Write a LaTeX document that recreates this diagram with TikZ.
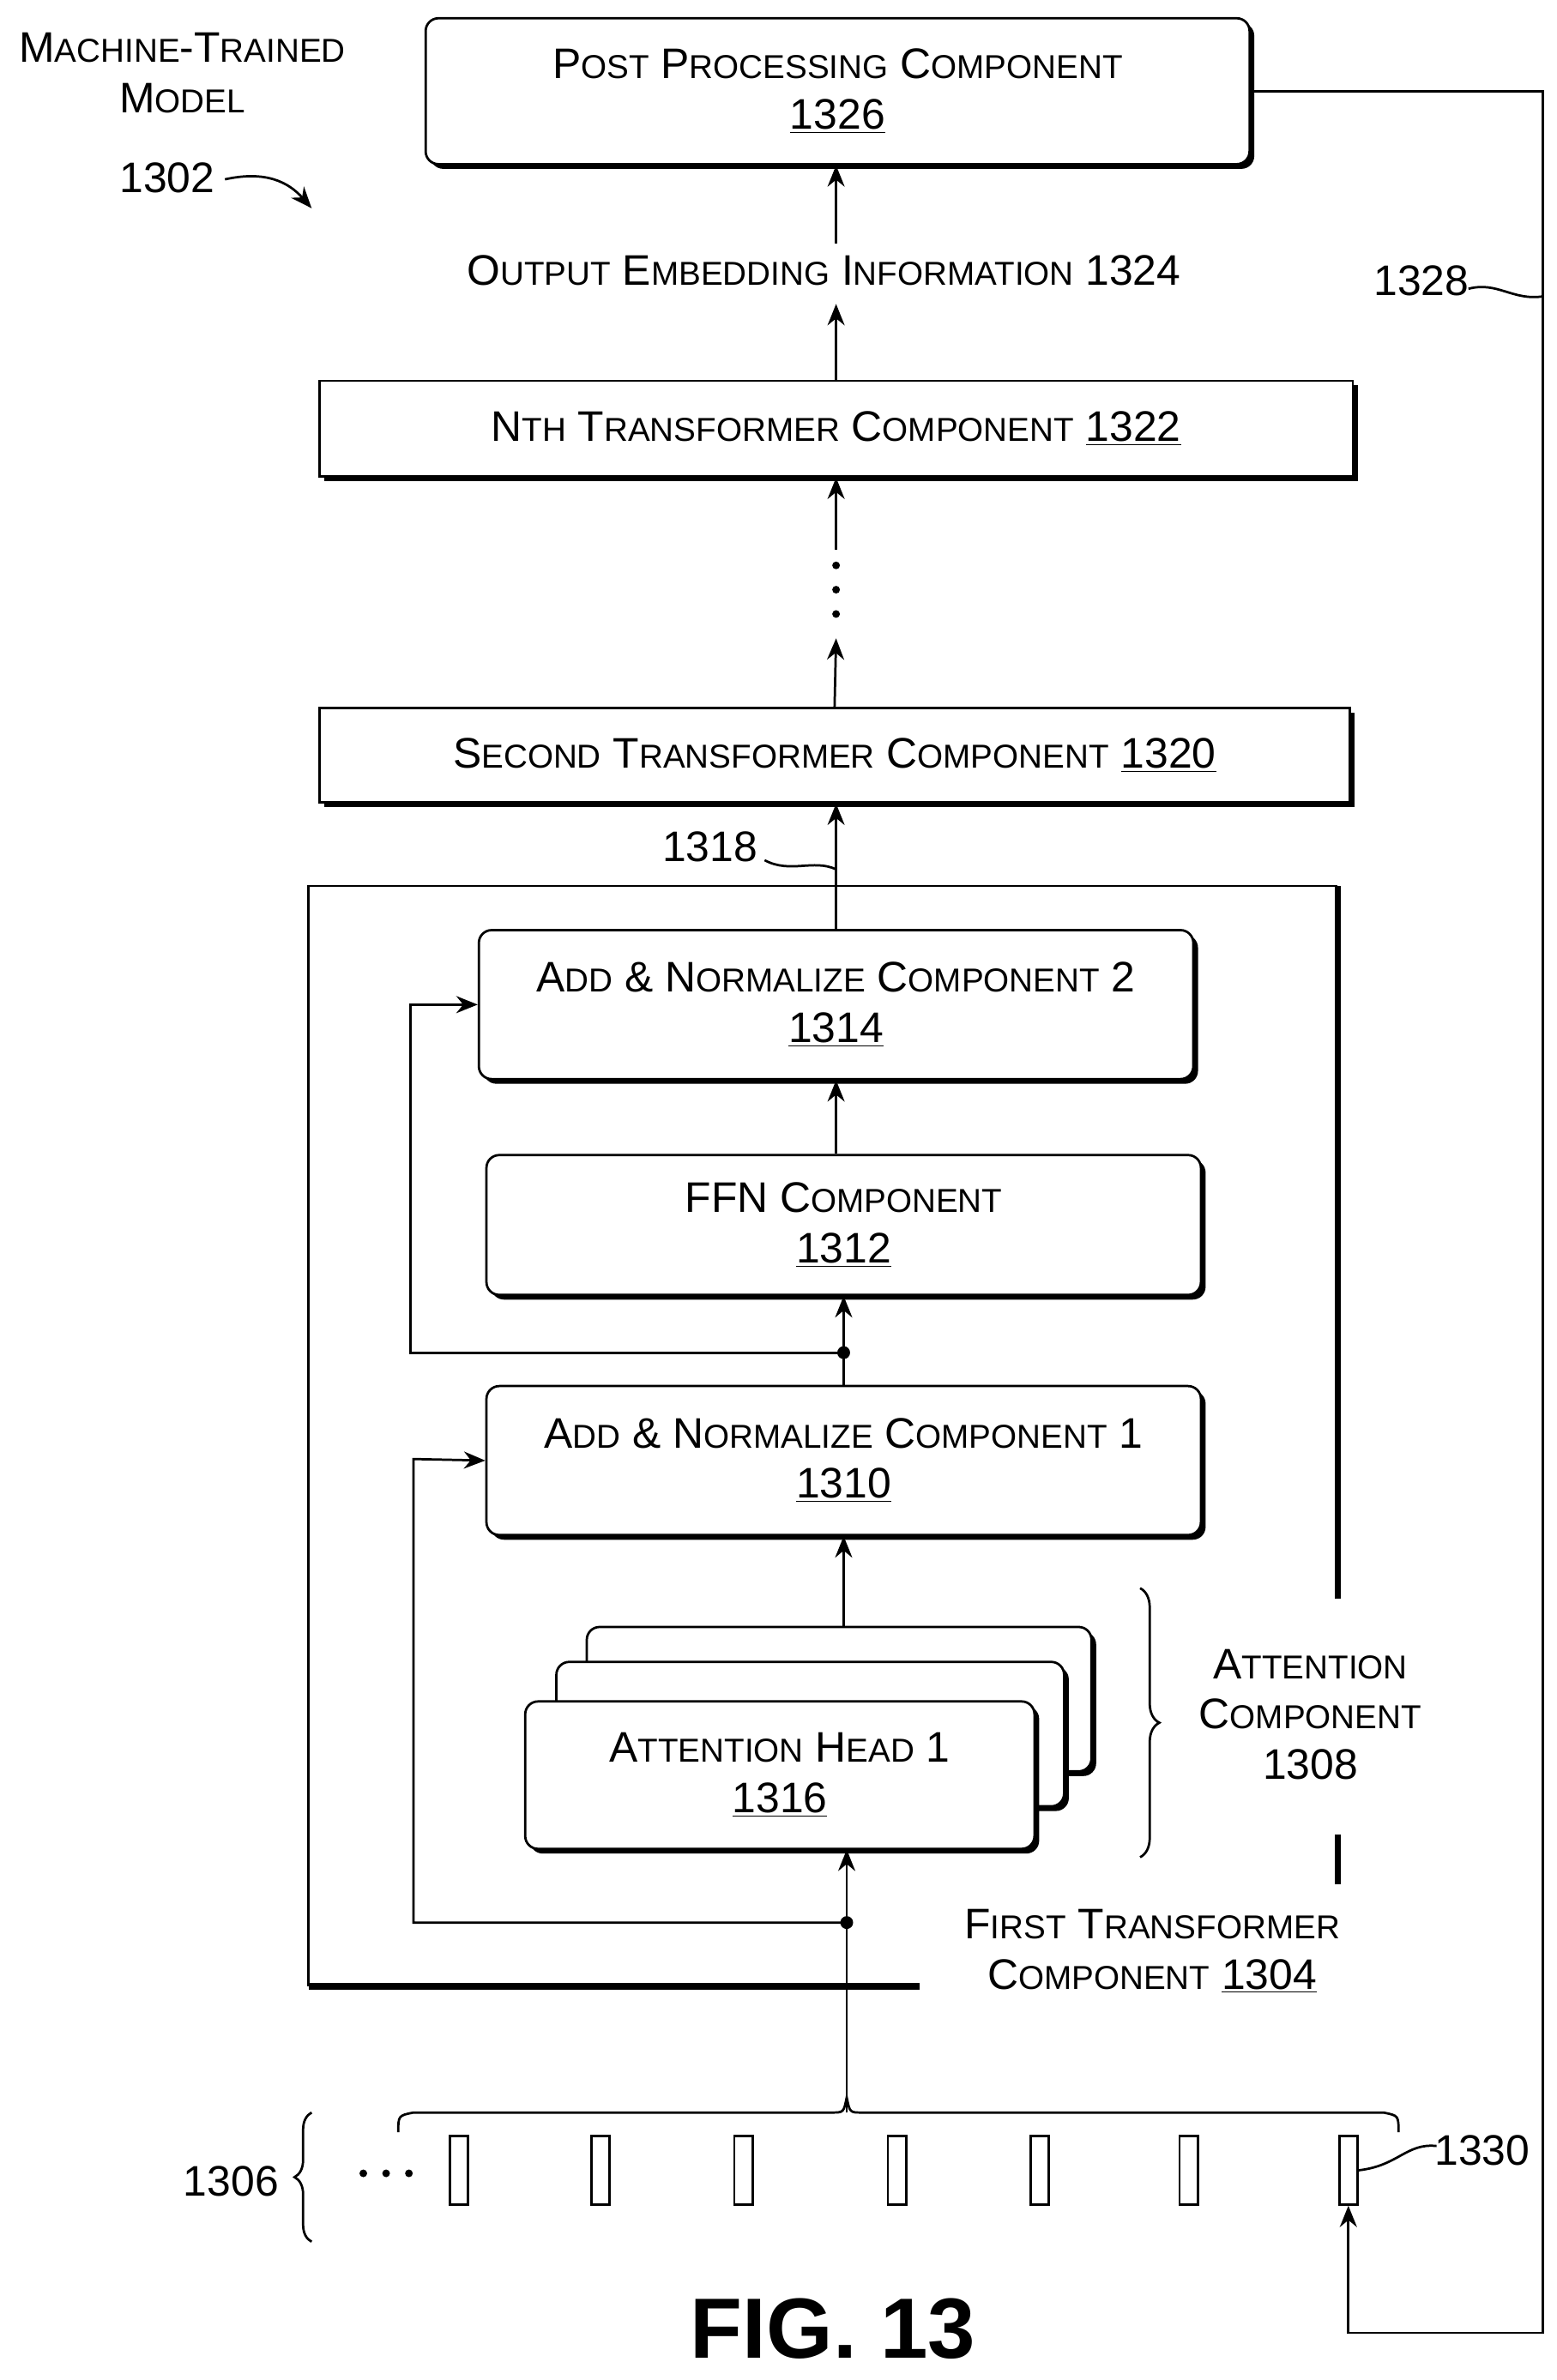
\documentclass[tikz,border=0pt]{standalone}
\usepackage{fontspec}
\setmainfont{Liberation Sans}
\usetikzlibrary{shadows,decorations.pathreplacing,arrows.meta}
\newcommand\W[2]{#1{\fontsize{15.5}{23.5}\selectfont #2}}
\begin{document}
\begin{tikzpicture}[x=0.025cm,y=-0.025cm,
  every node/.style={font=\fontsize{20}{23.5}\selectfont},
  lbl/.style={align=center,inner sep=0pt},
  box/.style={draw,line width=1.1pt,fill=white,align=center,drop shadow={shadow xshift=2.2pt,shadow yshift=-2.2pt,fill=black,opacity=1}},
  rbox/.style={box,rounded corners=6pt},
  arr/.style={line width=1.1pt,-{Stealth[length=10pt,width=8pt]}},
  ln/.style={line width=1.1pt}]
\useasboundingbox (0,0) rectangle (1024,1566);
% labels top left
\node[lbl] (mtm) at (120,48) {\W{M}{ACHINE}-\W{T}{RAINED}\\\W{M}{ODEL}};
\node[lbl] (n1302) at (110,117) {1302};
\coordinate (c1302) at (205,137);
\draw[arr] (148,118) .. controls (175,112) and (190,120) .. (c1302);
% post
\node[rbox,minimum width=542*0.025cm,minimum height=96*0.025cm] (post) at (551,60) {\W{P}{OST} \W{P}{ROCESSING} \W{C}{OMPONENT}\\\underline{1326}};
\node[lbl] (oei) at (542,178) {\W{O}{UTPUT} \W{E}{MBEDDING} \W{I}{NFORMATION} 1324};
\coordinate (o1) at (550,160);
\coordinate (o2) at (550,200);
\draw[arr] (o1) -- (post.south -| o1);
\node[box,minimum width=680*0.025cm,minimum height=63*0.025cm] (nth) at (550,282) {N\W{}{TH} \W{T}{RANSFORMER} \W{C}{OMPONENT} \underline{1322}};
\draw[arr] (nth.north) -- (o2);
\coordinate (d1) at (550,362);
\draw[arr] (d1) -- (nth.south);
\foreach \yy in {372,388,404} \fill (550,\yy) circle (1.8pt);
\node[box,minimum width=678*0.025cm,minimum height=62*0.025cm] (sec) at (549,497) {\W{S}{ECOND} \W{T}{RANSFORMER} \W{C}{OMPONENT} \underline{1320}};
\draw[arr] (sec.north) -- (550,420);
% frame
\draw[ln] (880,583) -- (203,583) -- (203,1307);
\draw[line width=3pt] (880,583) -- (880,1052);
\draw[line width=3pt] (880,1207) -- (880,1240);
\draw[line width=3pt] (203,1307) -- (605,1307);
% inner boxes
\node[rbox,minimum width=470*0.025cm,minimum height=98*0.025cm] (an2) at (550,661) {\W{A}{DD} \& \W{N}{ORMALIZE} \W{C}{OMPONENT} 2\\\underline{1314}};
\node[rbox,minimum width=470*0.025cm,minimum height=92*0.025cm] (ffn) at (555,806) {FFN \W{C}{OMPONENT}\\\underline{1312}};
\node[rbox,minimum width=470*0.025cm,minimum height=98*0.025cm] (an1) at (555,961) {\W{A}{DD} \& \W{N}{ORMALIZE} \W{C}{OMPONENT} 1\\\underline{1310}};
\draw[arr] (an2.north -| 550,0) -- (sec.south -| 550,0);
\node[lbl] (n1318) at (467,557) {1318};
\draw[ln] (503,566) .. controls (520,575) and (535,565) .. (550,572);
\draw[arr] (ffn.north -| 550,0) -- (an2.south -| 550,0);
\coordinate (j2) at (555,890);
\draw[arr] (an1.north) -- (ffn.south);
\fill (j2) circle (3pt);
\draw[arr] (j2) -- (270,890) -- (270,661) -- (an2.west);
% heads
\node[rbox,minimum width=332*0.025cm,minimum height=95*0.025cm] (h3) at (552,1118) {};
\node[rbox,minimum width=334*0.025cm,minimum height=95*0.025cm] (h2) at (533,1141) {};
\node[rbox,minimum width=335*0.025cm,minimum height=97*0.025cm] (h1) at (513,1168) {\W{A}{TTENTION} \W{H}{EAD} 1\\\underline{1316}};
\draw[arr] (555,1070) -- (an1.south);
\draw[decorate,decoration={brace,amplitude=9pt},ln] (750,1045) -- (750,1222);
\node[lbl] (attc) at (862,1128) {\W{A}{TTENTION}\\\W{C}{OMPONENT}\\1308};
\node[lbl] (ftc) at (758,1284) {\W{F}{IRST} \W{T}{RANSFORMER}\\\W{C}{OMPONENT} \underline{1304}};
\coordinate (j1) at (557,1265);
\coordinate (bt) at (557,1390);
\draw[arr] (bt) -- (557,1217);
\fill (j1) circle (3pt);
\draw[arr] (j1) -- (272,1265) -- (272,960) -- (an1.west);
% bottom brace
\draw[ln] (262,1403) .. controls (262,1392) .. (272,1390) -- (547,1390) .. controls (555,1390) .. (557,1380) .. controls (559,1390) .. (567,1390) -- (910,1390) .. controls (920,1392) .. (920,1403);
\foreach \xx/\nm in {302/t1,395/t2,489/t3,590/t4,684/t5,782/t6,887/t7}
  \node[draw,ln,minimum width=12*0.025cm,minimum height=45*0.025cm,inner sep=0pt] (\nm) at (\xx,1428) {};
\foreach \xx in {239,254,269} \fill (\xx,1430) circle (1.8pt);
\draw[decorate,decoration={brace,amplitude=8pt},ln] (205,1475) -- (205,1390);
\node[lbl] (n1306) at (152,1435) {1306};
\node[lbl] (n1330) at (975,1415) {1330};
\draw[ln] (t7.east) .. controls (920,1425) and (925,1410) .. (945,1412);
% feedback
\draw[arr] (post.east |- 0,60) -- (1015,60) -- (1015,1535) -- (887,1535) -- (t7.south);
\node[lbl] (n1328) at (935,185) {1328};
\draw[ln] (966,190) .. controls (985,185) and (995,198) .. (1015,195);
\node[lbl,font=\bfseries\fontsize{40}{46}\selectfont] (fig) at (548,1532) {FIG. 13};
\end{tikzpicture}
\end{document}
